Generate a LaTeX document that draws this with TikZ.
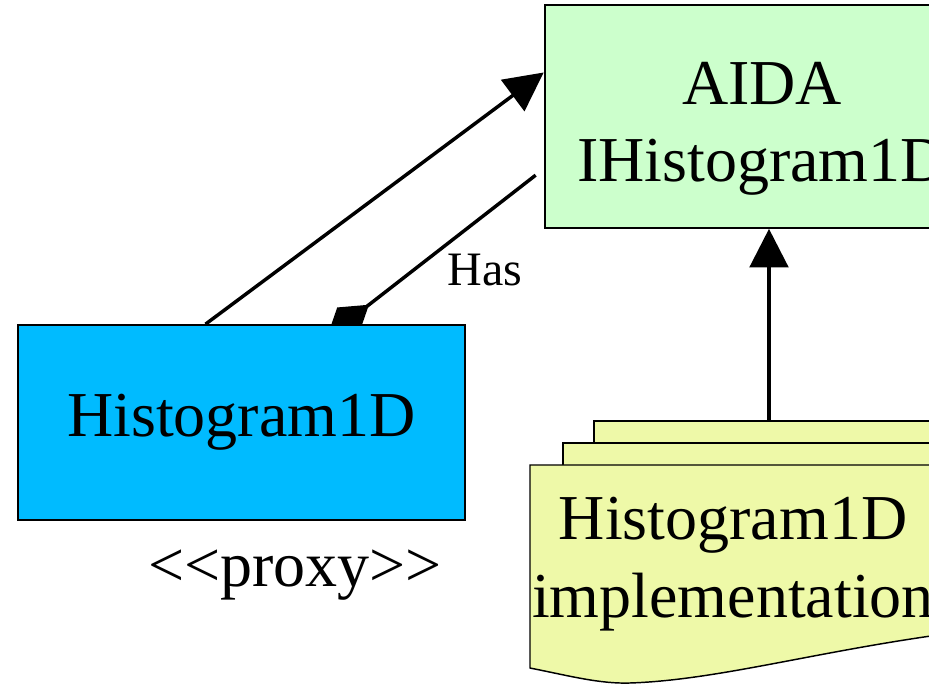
\documentclass[tikz,border=0pt]{standalone}
\usepackage{fontspec}
\setmainfont{Liberation Serif}
\usetikzlibrary{arrows.meta,positioning,backgrounds}
\definecolor{aidagreen}{HTML}{CCFFCC}
\definecolor{proxyblue}{HTML}{00BBFF}
\definecolor{implyellow}{HTML}{EEF9A8}

\begin{document}
\begin{tikzpicture}[
  x=0.75pt, y=-0.75pt,
  every node/.style={font=\fontsize{48}{58}\selectfont},
  box/.style={rectangle, draw, line width=1.5pt, inner sep=0pt},
  page/.style={draw, line width=1.1pt, fill=implyellow},
  link/.style={line width=2.6pt},
  tri/.style={link, -{Triangle[length=29pt,width=29pt]}},
]
\useasboundingbox (0,0) rectangle (929,684);
\clip (0,0) rectangle (929,684);

% Interface and proxy
\node[box, fill=aidagreen, minimum width=323pt, minimum height=167pt] (aida) at (760,116.5) {};
\node[align=center] (aidatext) at (762,129) {AIDA\\IHistogram1D};

\node[box, fill=proxyblue, minimum width=335pt, minimum height=146pt] (proxy) at (241.5,422.5) {Histogram1D};
\node (stereo) at (295,575) {{<\kern0pt<}proxy{>\kern0pt>}};

% Stacked implementation pages
\draw[page] (594,443) -- (594,421) -- (960,421) -- (960,443);
\draw[page] (563,465) -- (563,443) -- (960,443) -- (960,465);
\draw[page] (530,465) -- (960,465) -- (960,632)
  .. controls (820,650) and (720,680) .. (630,683)
  .. controls (600,684) and (570,676) .. (530,668) -- cycle;
\coordinate (pagetop) at (769,421);
\node[align=center] (impl) at (733,564) {Histogram1D\\implementation};

% Connectors
\draw[tri] ([xshift=-27pt]proxy.north) -- ([yshift=33pt]aida.west);
\begin{scope}[on background layer]
  \draw[link, -{Diamond[length=40pt,width=26pt]}]
    ([xshift=-6pt,yshift=-44pt]aida.west) -- ([xshift=64pt,yshift=-10pt]proxy.north);
\end{scope}
\node[font=\fontsize{36}{42}\selectfont] (has) at (485,270) {Has};
\draw[tri] (pagetop) -- ([xshift=6.75pt]aida.south);

\end{tikzpicture}
\end{document}
